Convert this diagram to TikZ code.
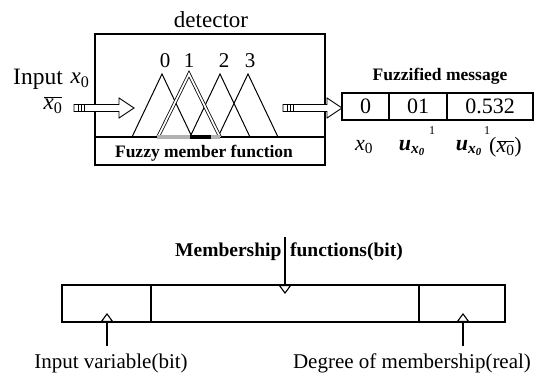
\documentclass[tikz,border=0pt]{standalone}
\usepackage{fontspec}
\setmainfont{Liberation Serif}
\usetikzlibrary{arrows.meta}
% italic x with subscript 0, and the bold membership symbol u
\newcommand\xnull{{\itshape x}\textsubscript{0}}
\newcommand\unull{{\bfseries\itshape u}\textsubscript{\bfseries\itshape x\textsubscript{0}}}
\tikzset{
  txt/.style={inner sep=0pt},
  cell/.style={draw, line width=1.3pt, inner sep=0pt, outer sep=0pt, minimum height=27pt, font=\fontsize{22}{24}\selectfont},
  field/.style={draw, line width=1.4pt, inner sep=0pt, outer sep=0pt, minimum height=37pt},
  mf/.style={line width=1pt},
  pointer/.style={line width=1.3pt, -{Triangle[open, fill=white, length=9pt, width=13pt, line width=1.1pt]}},
  hollow/.style={line width=0.9pt, fill=white}
}
\begin{document}
\begin{tikzpicture}[x=1pt, y=-1pt]
\useasboundingbox (0,0) rectangle (543,374);

% ---------- detector block ----------
\node[txt, font=\fontsize{23}{25}\selectfont] (dettitle) at (211,20) {detector};
\node[draw, line width=1.4pt, minimum width=230pt, minimum height=131pt, inner sep=0pt, outer sep=0pt, anchor=north west] (det) at (95,34) {};
\coordinate (sepL) at (95,137);
\coordinate (sepR) at (325,137);
\draw[line width=1.3pt] (sepL) -- (sepR);
\node[txt, font=\bfseries\fontsize{17.5}{19}\selectfont] (fmf) at (204,153) {Fuzzy member function};

% triangular membership functions
\foreach \p/\t/\q in {162/0/165, 189/1/189, 220/2/224, 248/3/250}{
  \coordinate (pk\t) at (\p,74);
  \coordinate (bl\t) at (\p-30,137);
  \coordinate (br\t) at (\p+30,137);
  \node[txt, font=\fontsize{21}{23}\selectfont] (n\t) at (\q,61) {\t};
}
\draw[mf] (bl0) -- (pk0) -- (br0);
\draw[mf] (bl2) -- (pk2) -- (br2);
\draw[mf] (bl3) -- (pk3) -- (br3);
% selected function, drawn hollow
\draw[mf, line width=0.8pt, double=white, double distance=1.8pt] ([xshift=-1pt]bl1) -- (pk1) -- ([xshift=1pt]br1);
\fill[gray!60] ([xshift=-2pt,yshift=-2pt]bl1) rectangle ([xshift=-2pt,yshift=1.5pt]br0);
\fill[black] ([xshift=-2pt,yshift=-2pt]br0) rectangle ([xshift=-8pt,yshift=1.5pt]br1);
\fill[gray!60] ([xshift=-8pt,yshift=-2pt]br1) rectangle ([xshift=1pt,yshift=1.5pt]br1);

% ---------- input ----------
\node[txt, font=\fontsize{23.5}{25}\selectfont] (inp) at (38,79) {Input};
\node[txt, font=\fontsize{23}{25}\selectfont] (xin) at (80,80) {\xnull};
\node[txt, font=\fontsize{23}{25}\selectfont] (xbar) at (53,105) {$\overline{\mbox{\xnull}}$};

% hollow input arrow
\coordinate (a1s) at (74,108);
\coordinate (a1e) at (134,108);
\draw[hollow] (a1s) ++(0,-3.5) -- ++(45,0) -- ++(0,-6.5) -- (a1e) -- ++(-15,10) -- ++(0,-6.5) -- ++(-45,0) -- cycle;
\draw[line width=0.8pt] (a1s) ++(4,-3.5) -- ++(0,7) ++(3,-7) -- ++(0,7) ++(3,-7) -- ++(0,7);

% ---------- fuzzified message ----------
\node[txt, font=\bfseries\fontsize{17.5}{19}\selectfont] (fmsg) at (440,76) {Fuzzified message};
\node[cell, minimum width=47pt, anchor=north west] (c0) at (342,93) {0};
\node[cell, minimum width=58pt, anchor=west] (c1) at (c0.east) {01};
\node[cell, minimum width=86pt, anchor=west] (c2) at (c1.east) {0.532};

\coordinate (a2s) at (283,108);
\draw[hollow] (a2s) ++(0,-3.5) -- ++(44,0) -- ++(0,-6.5) -- (c0.west |- a2s) -- ++(-15,10) -- ++(0,-6.5) -- ++(-44,0) -- cycle;
\draw[line width=0.8pt] (a2s) ++(4,-3.5) -- ++(0,7) ++(3,-7) -- ++(0,7) ++(3,-7) -- ++(0,7);

\node[txt, font=\fontsize{22}{24}\selectfont] (lx) at (364,147) {\xnull};
\node[txt, font=\fontsize{22}{24}\selectfont] (lu) at (412,148) {\unull};
\node[txt, font=\fontsize{12}{14}\selectfont] (lu1) at (432,131) {1};
\node[txt, font=\fontsize{22}{24}\selectfont] (lux) at (469,148) {\unull};
\node[txt, font=\fontsize{12}{14}\selectfont] (lux1) at (487,131) {1};
\node[txt, font=\fontsize{22}{24}\selectfont, anchor=west] (luxarg) at (489,147) {($\overline{\mbox{\xnull}}$)};

% ---------- message layout ----------
\node[field, minimum width=89pt, anchor=north west] (f0) at (62,285) {};
\node[field, minimum width=268pt, anchor=west] (f1) at (f0.east) {};
\node[field, minimum width=86pt, anchor=west] (f2) at (f1.east) {};

\node[txt, font=\bfseries\fontsize{19.5}{21}\selectfont] (tmf) at (289,252) {Membership\hspace{0.45em}functions(bit)};
\coordinate (tmftop) at (285,237);
\draw[pointer] (tmftop) -- (285,294);

\node[txt, font=\fontsize{21}{23}\selectfont] (tin) at (111,363) {Input variable(bit)};
\coordinate (pin) at (107,346);
\draw[pointer] (pin) -- (107,313);

\node[txt, font=\fontsize{21}{23}\selectfont] (tdeg) at (412,363) {Degree of membership(real)};
\coordinate (pdeg) at (463,346);
\draw[pointer] (pdeg) -- (463,313);
\end{tikzpicture}
\end{document}
